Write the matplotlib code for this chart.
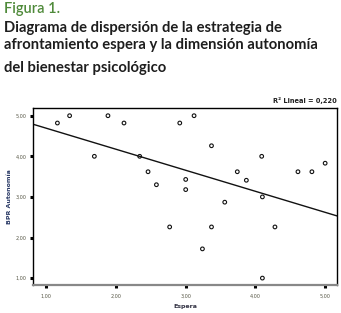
import numpy as np
import matplotlib
matplotlib.use("Agg")
import matplotlib.pyplot as plt

espera = [1.335, 1.16, 1.885, 2.115, 2.915, 1.69, 2.34, 2.46, 2.58, 3.0, 3.0,
          3.12, 3.37, 4.09, 3.74, 3.87, 4.61, 4.81, 5.0,
          4.10, 3.56, 3.37, 4.28, 3.24, 4.10, 2.77]
autonomia = [5.0, 4.82, 5.0, 4.82, 4.82, 4.0, 4.0, 3.62, 3.30, 3.43, 3.18,
             5.0, 4.26, 4.0, 3.62, 3.41, 3.62, 3.62, 3.83,
             3.0, 2.87, 2.26, 2.26, 1.72, 1.0, 2.26]
fit_intercept = 5.21
fit_slope = -0.518
xticks = [1, 2, 3, 4, 5]
yticks = [1, 2, 3, 4, 5]
tick_labels = ["1,00", "2,00", "3,00", "4,00", "5,00"]
r2_text = "R² Lineal = 0,220"

fig = plt.figure(figsize=(3.41, 3.13), dpi=100)
fig.text(0.012, 0.972, "Figura 1.", color="#4f8a3a", fontsize=10.5, family="Lato",
         weight="semibold", va="center")
fig.text(0.012, 0.911, "Diagrama de dispersión de la estrategia de", color="#1e1e1e",
         fontsize=10.6, family="Lato", weight="bold", va="center")
fig.text(0.012, 0.856, "afrontamiento espera y la dimensión autonomía", color="#1e1e1e",
         fontsize=10.6, family="Lato", weight="bold", va="center")
fig.text(0.012, 0.783, "del bienestar psicológico", color="#1e1e1e",
         fontsize=10.6, family="Lato", weight="bold", va="center")

ax = fig.add_axes([33/341, 1-285/313, (337-33)/341, (285-108)/313])
ax.scatter(espera, autonomia, s=7, facecolors="none", edgecolors="#111111", linewidths=0.8, zorder=3)
xl = np.array([0.81, 5.17])
ax.plot(xl, fit_intercept + fit_slope*xl, color="#111111", lw=1.0)
ax.set_xlim(0.81, 5.17)
ax.set_ylim(0.83, 5.19)
ax.set_xticks(xticks)
ax.set_yticks(yticks)
ax.set_xticklabels(tick_labels, fontsize=3.5, color="#555544")
ax.set_yticklabels(tick_labels, fontsize=3.5, color="#555544")
ax.tick_params(length=2.5, width=2.2, color="black")
ax.tick_params(axis="x", pad=3.5)
ax.tick_params(axis="y", pad=2)
for s in ["top", "right", "left"]:
    ax.spines[s].set_linewidth(1.0)
ax.spines["bottom"].set_color("#888888")
ax.spines["bottom"].set_linewidth(1.6)
ax.set_xlabel("Espera", fontsize=4.5, weight="bold", color="#333344", labelpad=4)
ax.set_ylabel("BPR Autonomía", fontsize=4.5, weight="bold", color="#2a3a66", labelpad=3)
ax.text(1.0, 1.025, r2_text, transform=ax.transAxes, ha="right", va="bottom",
        fontsize=4.8, weight="bold", color="#222222")
fig.savefig("out.png", dpi=100)
